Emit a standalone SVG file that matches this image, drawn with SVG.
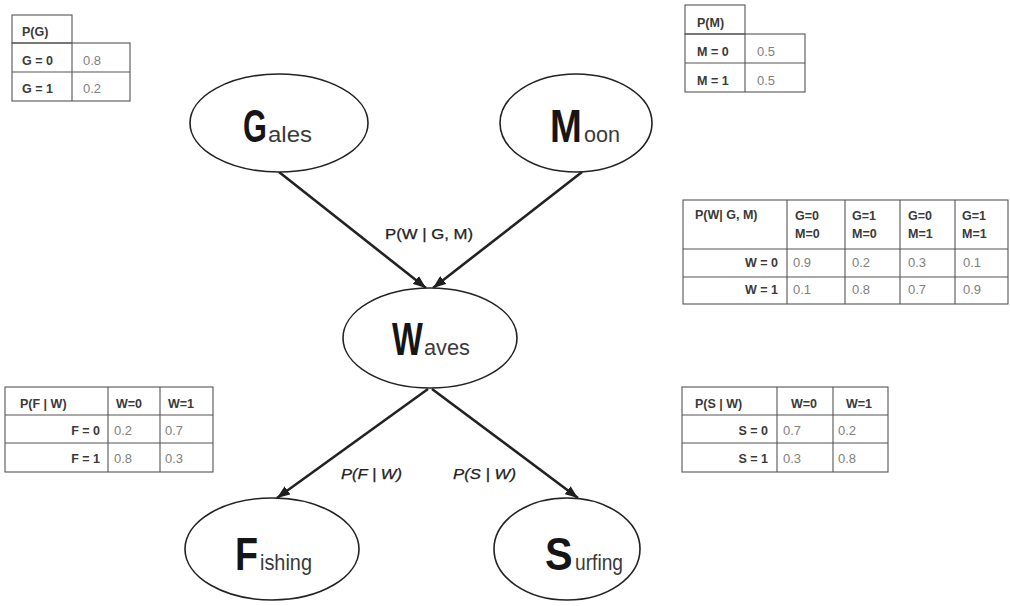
<svg xmlns="http://www.w3.org/2000/svg" width="1010" height="606" viewBox="0 0 1010 606">
  <defs>
    <marker id="arrow" viewBox="0 0 13 10" refX="13" refY="5" markerWidth="13" markerHeight="10" markerUnits="userSpaceOnUse" orient="auto">
      <path d="M0,0 L13,5 L0,10 z" fill="#1e1e1e"/>
    </marker>
    <style>
      .node { fill: #ffffff; stroke: #222; stroke-width: 1.6; }
      .big { font-family: "Liberation Sans", Arial, sans-serif; font-weight: bold; font-size: 46px; fill: #151515; }
      .small { font-family: "Liberation Sans", Arial, sans-serif; font-size: 22px; fill: #3a3a3a; }
      .edge { stroke: #222; stroke-width: 2.6; fill: none; }
      .elabel { font-family: "Liberation Sans", Arial, sans-serif; font-size: 14px; fill: #222; stroke: #222; stroke-width: 0.25; }
      .cell { fill: none; stroke: #555; stroke-width: 1.1; }
      .th { font-family: "Liberation Sans", Arial, sans-serif; font-weight: bold; font-size: 12.5px; fill: #3a3a3a; }
      .tv { font-family: "Liberation Sans", Arial, sans-serif; font-size: 13px; fill: #808080; }
    </style>
  </defs>
  <rect width="1010" height="606" fill="#ffffff"/>

  <!-- connectors -->
  <g id="edges">
    <line class="edge" x1="279" y1="172" x2="426" y2="288" marker-end="url(#arrow)"/>
    <line class="edge" x1="582" y1="172" x2="433" y2="288" marker-end="url(#arrow)"/>
    <line class="edge" x1="428" y1="389" x2="277" y2="498" marker-end="url(#arrow)"/>
    <line class="edge" x1="432" y1="389" x2="578" y2="498" marker-end="url(#arrow)"/>
    <text class="elabel" x="385" y="239" textLength="88" lengthAdjust="spacingAndGlyphs">P(W | G, M)</text>
    <text class="elabel" x="341" y="479" font-style="italic" textLength="61" lengthAdjust="spacingAndGlyphs">P(F | W)</text>
    <text class="elabel" x="453" y="479" font-style="italic" textLength="63" lengthAdjust="spacingAndGlyphs">P(S | W)</text>
  </g>

  <!-- nodes: condensed large initial followed by the rest of the word -->
  <g id="node-gales">
    <ellipse class="node" cx="279" cy="123" rx="89" ry="49"/>
    <text class="big" transform="translate(243 142) scale(0.667 1)">G</text>
    <text class="small" x="268" y="142" textLength="44" lengthAdjust="spacingAndGlyphs">ales</text>
  </g>
  <g id="node-moon">
    <ellipse class="node" cx="576" cy="123" rx="76" ry="49"/>
    <text class="big" transform="translate(550 142) scale(0.83 1)">M</text>
    <text class="small" x="584" y="142" textLength="36" lengthAdjust="spacingAndGlyphs">oon</text>
  </g>
  <g id="node-waves">
    <ellipse class="node" cx="430" cy="338" rx="87" ry="50"/>
    <text class="big" transform="translate(392 355) scale(0.71 1)">W</text>
    <text class="small" x="424" y="355" textLength="46" lengthAdjust="spacingAndGlyphs">aves</text>
  </g>
  <g id="node-fishing">
    <ellipse class="node" cx="272" cy="549" rx="87" ry="51"/>
    <text class="big" transform="translate(235 570) scale(0.82 1)">F</text>
    <text class="small" x="260" y="570" textLength="52" lengthAdjust="spacingAndGlyphs">ishing</text>
  </g>
  <g id="node-surfing">
    <ellipse class="node" cx="567" cy="549" rx="73" ry="51"/>
    <text class="big" transform="translate(545 570) scale(0.9 1)">S</text>
    <text class="small" x="575" y="570" textLength="48" lengthAdjust="spacingAndGlyphs">urfing</text>
  </g>

  <!-- probability table for G -->
  <g id="table-pg">
    <rect class="cell" x="12" y="15" width="60" height="28"/>
    <rect class="cell" x="12" y="43" width="118" height="58"/>
    <line class="cell" x1="12" y1="72" x2="130" y2="72"/>
    <line class="cell" x1="72" y1="43" x2="72" y2="101"/>
    <text class="th" x="22" y="36">P(G)</text>
    <text class="th" x="22" y="65">G = 0</text>
    <text class="tv" x="83" y="65">0.8</text>
    <text class="th" x="22" y="93">G = 1</text>
    <text class="tv" x="83" y="93">0.2</text>
  </g>

  <!-- probability table for M -->
  <g id="table-pm">
    <rect class="cell" x="685" y="5" width="60" height="29"/>
    <rect class="cell" x="685" y="34" width="120" height="58"/>
    <line class="cell" x1="685" y1="63" x2="805" y2="63"/>
    <line class="cell" x1="745" y1="34" x2="745" y2="92"/>
    <text class="th" x="697" y="27">P(M)</text>
    <text class="th" x="697" y="56">M = 0</text>
    <text class="tv" x="757" y="56">0.5</text>
    <text class="th" x="697" y="85">M = 1</text>
    <text class="tv" x="757" y="85">0.5</text>
  </g>

  <!-- conditional table for W given G, M -->
  <g id="table-pw">
    <rect class="cell" x="683" y="200" width="325" height="104"/>
    <line class="cell" x1="683" y1="249" x2="1008" y2="249"/>
    <line class="cell" x1="683" y1="277" x2="1008" y2="277"/>
    <line class="cell" x1="787" y1="200" x2="787" y2="304"/>
    <line class="cell" x1="845" y1="200" x2="845" y2="304"/>
    <line class="cell" x1="900" y1="200" x2="900" y2="304"/>
    <line class="cell" x1="955" y1="200" x2="955" y2="304"/>
    <text class="th" x="695" y="219">P(W| G, M)</text>
    <text class="th" x="795" y="220">G=0</text>
    <text class="th" x="795" y="238">M=0</text>
    <text class="th" x="852" y="220">G=1</text>
    <text class="th" x="852" y="238">M=0</text>
    <text class="th" x="908" y="220">G=0</text>
    <text class="th" x="908" y="238">M=1</text>
    <text class="th" x="962" y="220">G=1</text>
    <text class="th" x="962" y="238">M=1</text>
    <text class="th" x="778" y="267" text-anchor="end">W = 0</text>
    <text class="tv" x="793" y="267">0.9</text>
    <text class="tv" x="852" y="267">0.2</text>
    <text class="tv" x="908" y="267">0.3</text>
    <text class="tv" x="963" y="267">0.1</text>
    <text class="th" x="778" y="294" text-anchor="end">W = 1</text>
    <text class="tv" x="793" y="294">0.1</text>
    <text class="tv" x="852" y="294">0.8</text>
    <text class="tv" x="908" y="294">0.7</text>
    <text class="tv" x="963" y="294">0.9</text>
  </g>

  <!-- conditional table for F given W -->
  <g id="table-pf">
    <rect class="cell" x="5" y="387" width="208" height="85"/>
    <line class="cell" x1="5" y1="415" x2="213" y2="415"/>
    <line class="cell" x1="5" y1="443" x2="213" y2="443"/>
    <line class="cell" x1="108" y1="387" x2="108" y2="472"/>
    <line class="cell" x1="160" y1="387" x2="160" y2="472"/>
    <text class="th" x="20" y="408">P(F | W)</text>
    <text class="th" x="116" y="408">W=0</text>
    <text class="th" x="168" y="408">W=1</text>
    <text class="th" x="100" y="435" text-anchor="end">F = 0</text>
    <text class="tv" x="114" y="435">0.2</text>
    <text class="tv" x="165" y="435">0.7</text>
    <text class="th" x="100" y="463" text-anchor="end">F = 1</text>
    <text class="tv" x="114" y="463">0.8</text>
    <text class="tv" x="165" y="463">0.3</text>
  </g>

  <!-- conditional table for S given W -->
  <g id="table-ps">
    <rect class="cell" x="682" y="387" width="206" height="85"/>
    <line class="cell" x1="682" y1="415" x2="888" y2="415"/>
    <line class="cell" x1="682" y1="443" x2="888" y2="443"/>
    <line class="cell" x1="777" y1="387" x2="777" y2="472"/>
    <line class="cell" x1="833" y1="387" x2="833" y2="472"/>
    <text class="th" x="695" y="408">P(S | W)</text>
    <text class="th" x="791" y="408">W=0</text>
    <text class="th" x="846" y="408">W=1</text>
    <text class="th" x="768" y="435" text-anchor="end">S = 0</text>
    <text class="tv" x="783" y="435">0.7</text>
    <text class="tv" x="838" y="435">0.2</text>
    <text class="th" x="768" y="463" text-anchor="end">S = 1</text>
    <text class="tv" x="783" y="463">0.3</text>
    <text class="tv" x="838" y="463">0.8</text>
  </g>
</svg>
